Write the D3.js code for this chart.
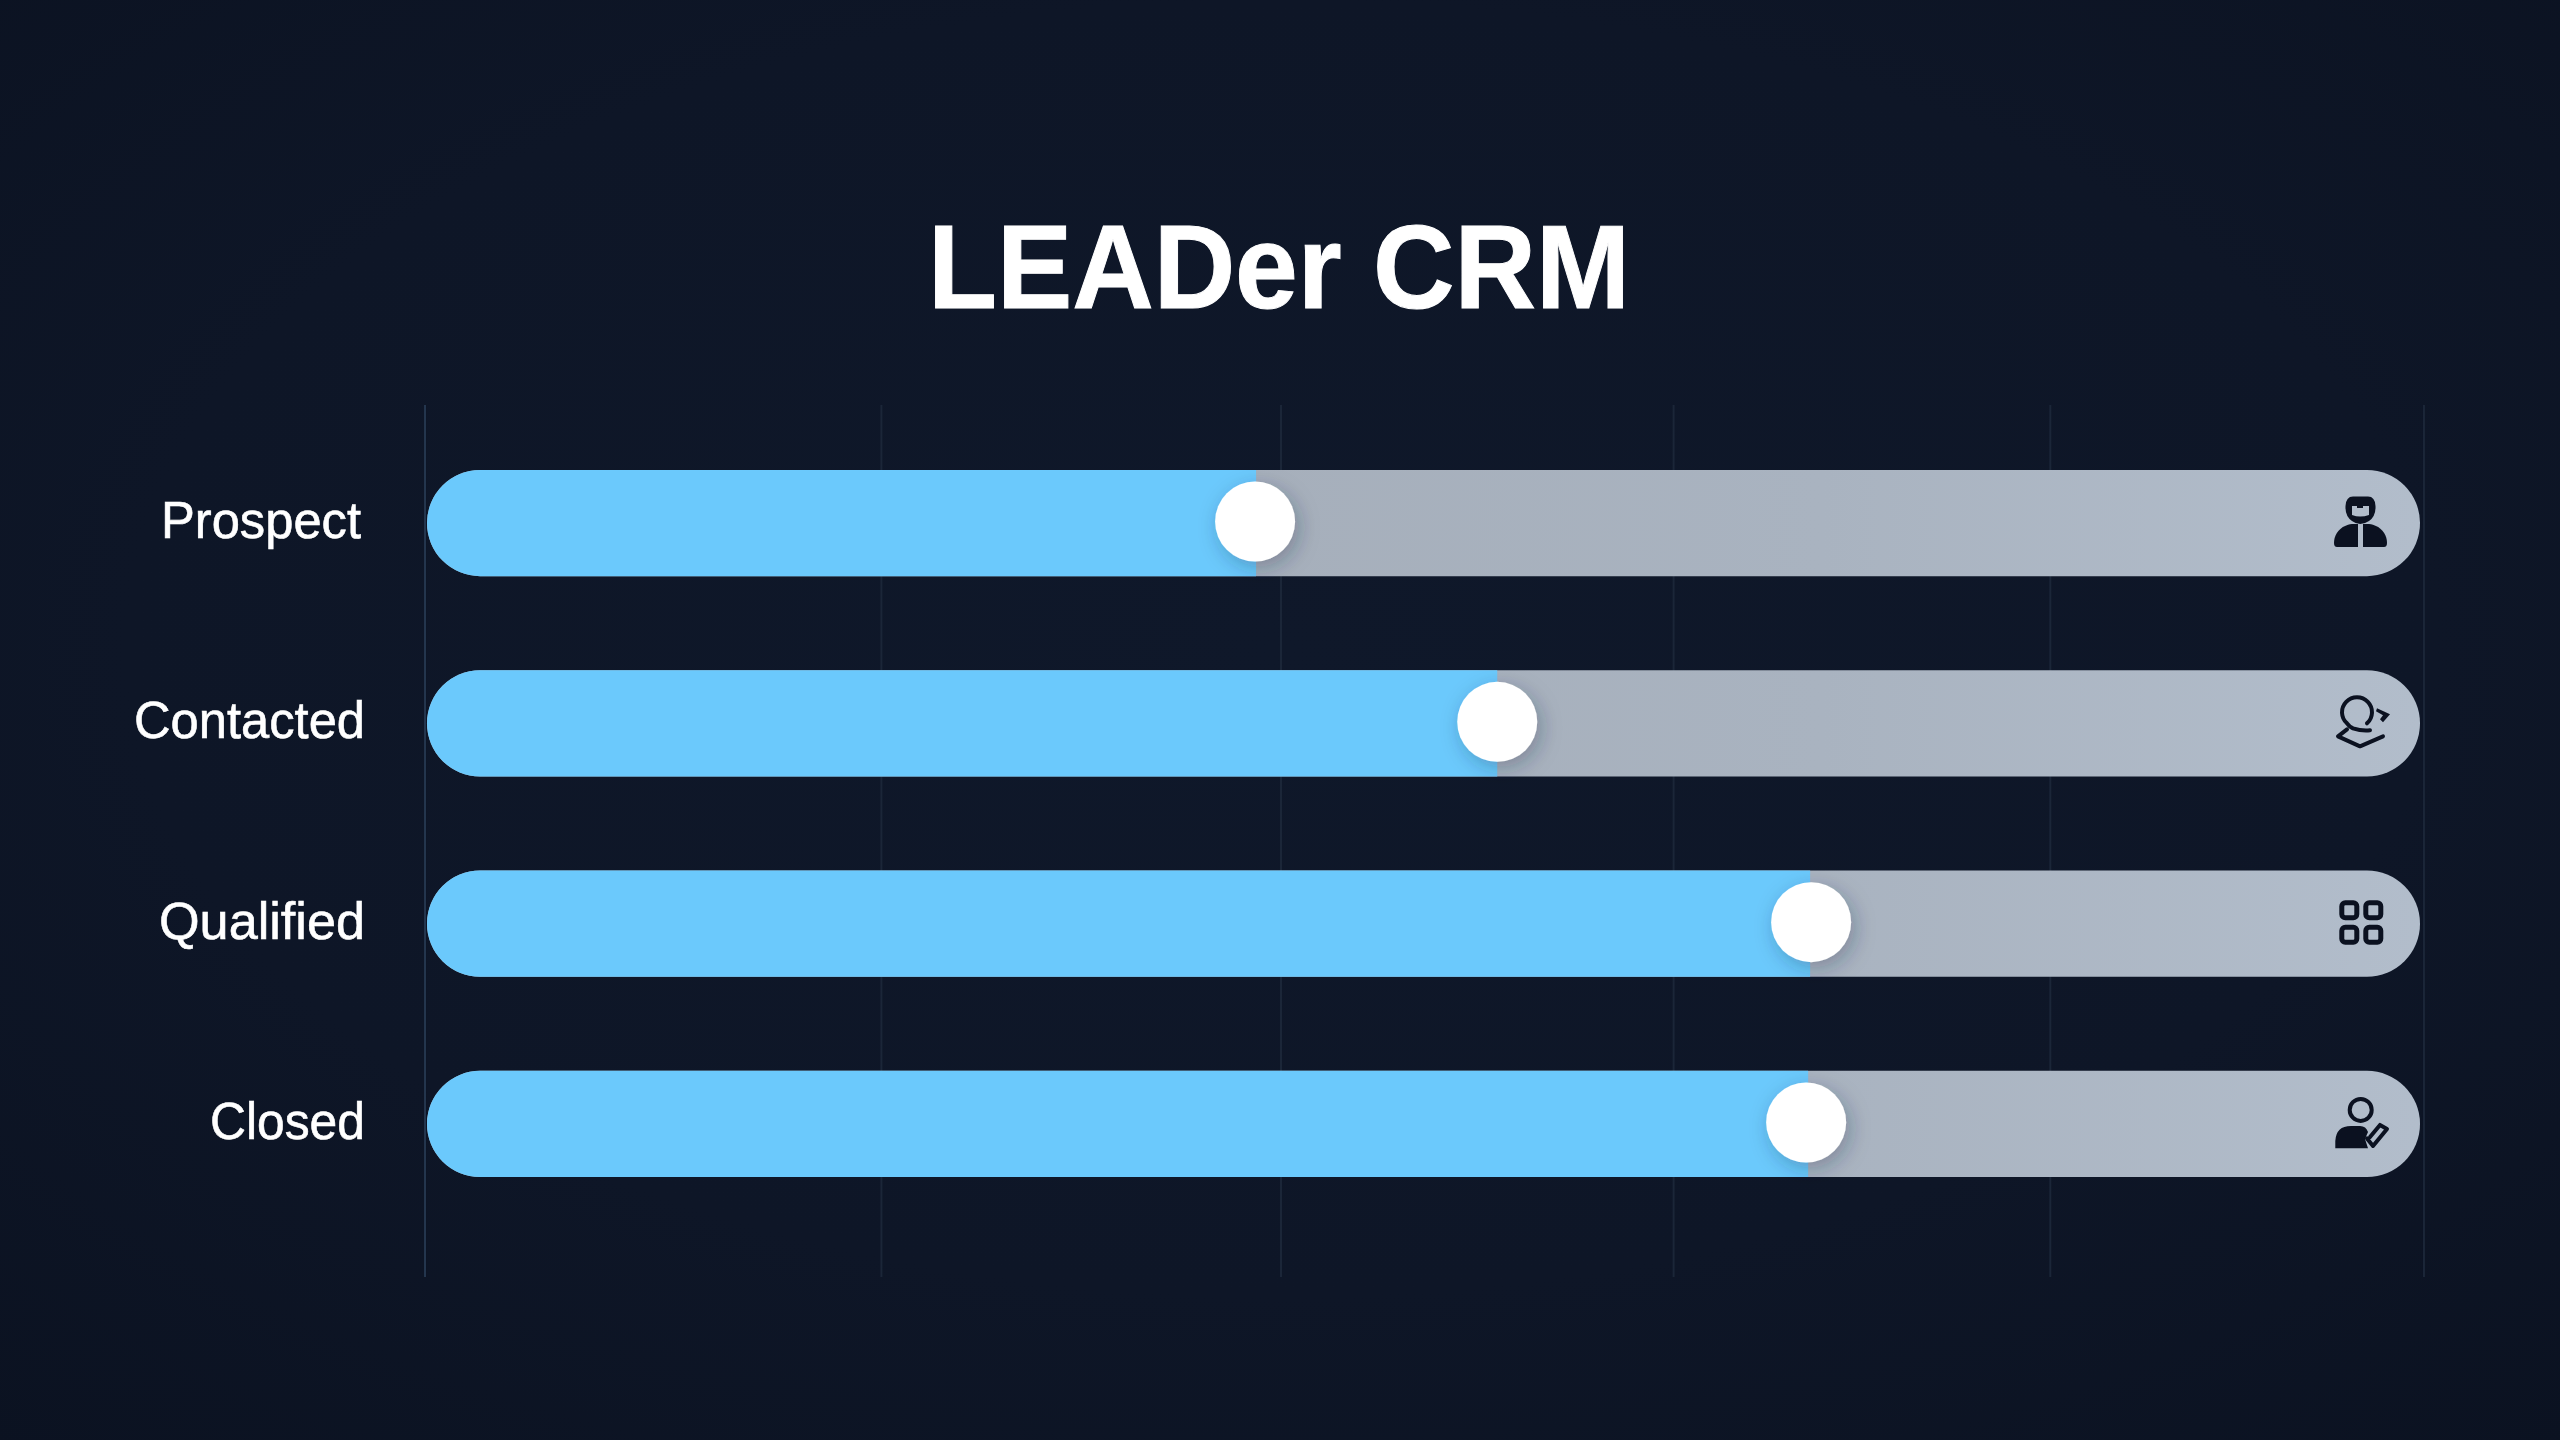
<!DOCTYPE html>
<html><head><meta charset="utf-8">
<script src="https://cdnjs.cloudflare.com/ajax/libs/d3/7.8.5/d3.min.js"></script>
<style>html,body{margin:0;padding:0;background:#0d1525;overflow:hidden}svg{display:block}</style>
</head><body><svg id="c" width="2560" height="1440"></svg>
<script>
const titleText = "LEADer CRM";
const categories = ["Prospect", "Contacted", "Qualified", "Closed"];
const fillValues = [41.6, 53.7, 69.4, 69.3];
const thumbValues = [41.55, 53.7, 69.45, 69.2];
const gridValues = [-0.1, 22.8, 42.85, 62.55, 81.45, 100.2];
const domainMax = 100;

const svg = d3.select("#c");
const x = d3.scaleLinear().domain([0, domainMax]).range([427, 2420]);
const y = d3.scaleBand().domain(categories).range([470, 1177]).paddingInner(0.47).paddingOuter(0);
const h = y.bandwidth(), r = h / 2;

const defs = svg.append("defs");
const bgG = defs.append("radialGradient").attr("id", "bg").attr("cx", "50%").attr("cy", "45%").attr("r", "75%");
[[0, "#0f182a"], [0.6, "#0e1627"], [1, "#0b1221"]].forEach(s => bgG.append("stop").attr("offset", s[0]).attr("stop-color", s[1]));
const trackG = defs.append("linearGradient").attr("id", "track").attr("gradientUnits", "userSpaceOnUse")
  .attr("x1", x(40)).attr("x2", x(100)).attr("y1", 0).attr("y2", 0);
[[0, "#a6afbb"], [0.5, "#a9b3c0"], [1, "#b2bdcb"]].forEach(s => trackG.append("stop").attr("offset", s[0]).attr("stop-color", s[1]));
const sh = defs.append("filter").attr("id", "sh").attr("x", "-40%").attr("y", "-40%").attr("width", "180%").attr("height", "180%");
sh.append("feDropShadow").attr("dx", 4).attr("dy", 6).attr("stdDeviation", 10).attr("flood-color", "#20304a").attr("flood-opacity", 0.3);

svg.append("rect").attr("width", 2560).attr("height", 1440).attr("fill", "url(#bg)");

svg.append("text").attr("x", 1279).attr("y", 308).attr("text-anchor", "middle")
  .attr("font-family", "'Liberation Sans', Arial, sans-serif").attr("font-weight", 700)
  .attr("font-size", 119).attr("fill", "#ffffff").attr("stroke", "#ffffff").attr("stroke-width", 1)
  .attr("textLength", 702).attr("lengthAdjust", "spacingAndGlyphs").text(titleText);

svg.append("g").selectAll("line").data(gridValues).join("line")
  .attr("x1", d => x(d)).attr("x2", d => x(d)).attr("y1", 405).attr("y2", 1277)
  .attr("stroke", (d, i) => i === 0 ? "#24364e" : "#1b2638").attr("stroke-width", 2);

const row = svg.append("g").selectAll("g").data(categories).join("g")
  .attr("transform", d => `translate(0,${y(d)})`);

row.append("rect").attr("x", x(0)).attr("width", x(domainMax) - x(0)).attr("height", h)
  .attr("rx", r).attr("fill", "url(#track)");

row.append("path").attr("fill", "#6bc9fc").attr("d", (d, i) => {
  const p = d3.path(), x0 = x(0), x1 = x(fillValues[i]);
  p.moveTo(x1, 0); p.lineTo(x0 + r, 0); p.arc(x0 + r, r, r, -Math.PI / 2, Math.PI / 2, true); p.lineTo(x1, h); p.closePath();
  return p.toString();
});

row.append("circle").attr("cx", (d, i) => x(thumbValues[i])).attr("cy", r - 1.5).attr("r", 40)
  .attr("fill", "#ffffff").attr("filter", "url(#sh)");

const labelX = [361, 365, 365, 365];
const labelLen = [200, 231, 206, 155];
row.append("text").attr("x", (d, i) => labelX[i]).attr("y", r + 15).attr("text-anchor", "end")
  .attr("font-family", "'Liberation Sans', Arial, sans-serif").attr("font-size", 52).attr("fill", "#ffffff")
  .attr("stroke", "#ffffff").attr("stroke-width", 0.6)
  .attr("textLength", (d, i) => labelLen[i]).attr("lengthAdjust", "spacingAndGlyphs").text(d => d);

const ink = "#0b1120", stroke = { fill: "none", stroke: ink, "stroke-width": 4, "stroke-linecap": "round", "stroke-linejoin": "round" };
const paint = (s, a) => { Object.entries(a).forEach(([k, v]) => s.attr(k, v)); return s; };
const icons = [
  g => {
    g.append("path").attr("fill", ink).attr("d", "M-7,-26.5 H8 Q15,-26.5 15.5,-17 Q16,-7 9,-2 Q0,4 -8,-2 Q-15,-7 -14.5,-17 Q-14,-26.5 -7,-26.5 Z");
    g.append("path").attr("fill", "#b2bdcb").attr("d", "M-8,-17 H-3 V-15 H3 V-17 H9 V-8 Q0,-5 -8,-8 Z");
    g.append("path").attr("fill", ink).attr("d", "M-2,1 V24 H-23 Q-26,24 -26,20 C-26,9 -17,1 -6,1 Z");
    g.append("path").attr("fill", ink).attr("d", "M3,1 V24 H24 Q27,24 27,20 C27,9 18,1 7,1 Z");
  },
  g => {
    paint(g.append("path"), stroke).attr("d", "M7,0 A 15 15 0 1 0 -13,0 Q-11,3 -7,5 Q2,8 10,7");
    paint(g.append("path"), stroke).attr("d", "M-13,6 L-22,13 L0,23 L23,13");
    g.append("path").attr("fill", ink).attr("d", "M17,-15 L30,-9 L23,-1 L20,-4 L23,-8 L16,-12 Z");
  },
  g => {
    [[-20.7, -23.3], [3.3, -23.3], [-20.7, 1], [3.3, 1]].forEach(q => {
      paint(g.append("rect"), stroke).attr("x", q[0] + 2.5).attr("y", q[1] + 2.5).attr("width", 15).attr("height", 15).attr("rx", 3.5).attr("stroke-width", 5);
    });
  },
  g => {
    paint(g.append("circle"), stroke).attr("cx", 0.7).attr("cy", -14).attr("r", 11).attr("stroke-width", 4);
    g.append("path").attr("fill", ink).attr("d", "M-24.7,24.3 V17 Q-24,2 -9,2 H0 Q6,2 8,8 L5,15 L8,24.3 Z");
    paint(g.append("path"), stroke).attr("d", "M7,14.5 L13,22 L27,5 L20,1 L10,13");
  }
];
row.each(function (d, i) {
  const g = d3.select(this).append("g").attr("transform", `translate(2360,${r})`);
  icons[i](g);
});
</script></body></html>
